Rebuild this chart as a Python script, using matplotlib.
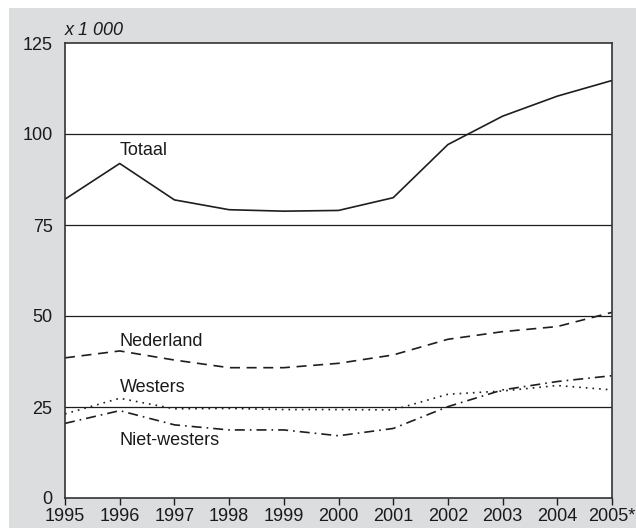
import matplotlib as mpl
mpl.use('Agg')
import matplotlib.pyplot as plt
from matplotlib.patches import Rectangle

plt.rcParams['font.family'] = ['Liberation Sans', 'DejaVu Sans']

########data########
years = [1995, 1996, 1997, 1998, 1999, 2000, 2001, 2002, 2003, 2004, 2005]
year_labels = ['1995', '1996', '1997', '1998', '1999', '2000', '2001', '2002', '2003', '2004', '2005*']
totaal = [82.1, 91.9, 81.9, 79.2, 78.8, 79.0, 82.5, 97.1, 104.9, 110.4, 114.7]
nederland = [38.5, 40.4, 37.9, 35.8, 35.8, 37.0, 39.3, 43.6, 45.7, 47.1, 51.0]
westers = [23.1, 27.4, 24.5, 24.6, 24.3, 24.3, 24.2, 28.5, 29.4, 30.9, 29.7]
niet_westers = [20.5, 24.0, 20.1, 18.7, 18.7, 17.1, 19.1, 25.1, 29.7, 32.0, 33.6]

W, H = 636, 528
fig = plt.figure(figsize=(W / 100, H / 100), dpi=100)
fig.patches.append(Rectangle((9 / W, 0), 1, 1 - 8 / H, transform=fig.transFigure,
                             facecolor='#dcdddf', edgecolor='none', zorder=0))

ax = fig.add_axes([65 / W, 1 - 498 / H, (612 - 65) / W, (498 - 43) / H])
ax.set_facecolor('white')
ax.set_zorder(1)

lc = '#1e1e1e'
ax.plot(years, totaal, color=lc, lw=1.2, ls='-')
ax.plot(years, nederland, color=lc, lw=1.2, ls=(0, (6, 4)))
ax.plot(years, westers, color=lc, lw=1.2, ls=(0, (1, 3)))
ax.plot(years, niet_westers, color=lc, lw=1.2, ls=(0, (6, 3, 1, 3)))

for v in [25, 50, 75, 100]:
    ax.axhline(v, color=lc, lw=0.9, zorder=0.5)

fs = 13
tc = '#1a1a1a'
ax.text(1996, 95.5, 'Totaal', fontsize=fs, color=tc, va='center', ha='left')
ax.text(1996, 43.1, 'Nederland', fontsize=fs, color=tc, va='center', ha='left')
ax.text(1996, 30.3, 'Westers', fontsize=fs, color=tc, va='center', ha='left')
ax.text(1996, 15.9, 'Niet-westers', fontsize=fs, color=tc, va='center', ha='left')
ax.text(0, 1.008, 'x 1 000', transform=ax.transAxes, fontsize=fs, style='italic',
        color=tc, ha='left', va='bottom')

ax.set_xlim(1995, 2005)
ax.set_ylim(0, 125)
ax.set_xticks(years)
ax.set_xticklabels(year_labels)
ax.set_yticks([0, 25, 50, 75, 100, 125])
ax.tick_params(axis='x', direction='out', length=5, width=1, color=lc,
               labelsize=fs, labelcolor=tc, pad=2.5)
ax.tick_params(axis='y', length=0, labelsize=fs, labelcolor=tc, pad=9)
for s in ax.spines.values():
    s.set_color('#333333')
    s.set_linewidth(1.2)

fig.savefig('out.png', dpi=100)
